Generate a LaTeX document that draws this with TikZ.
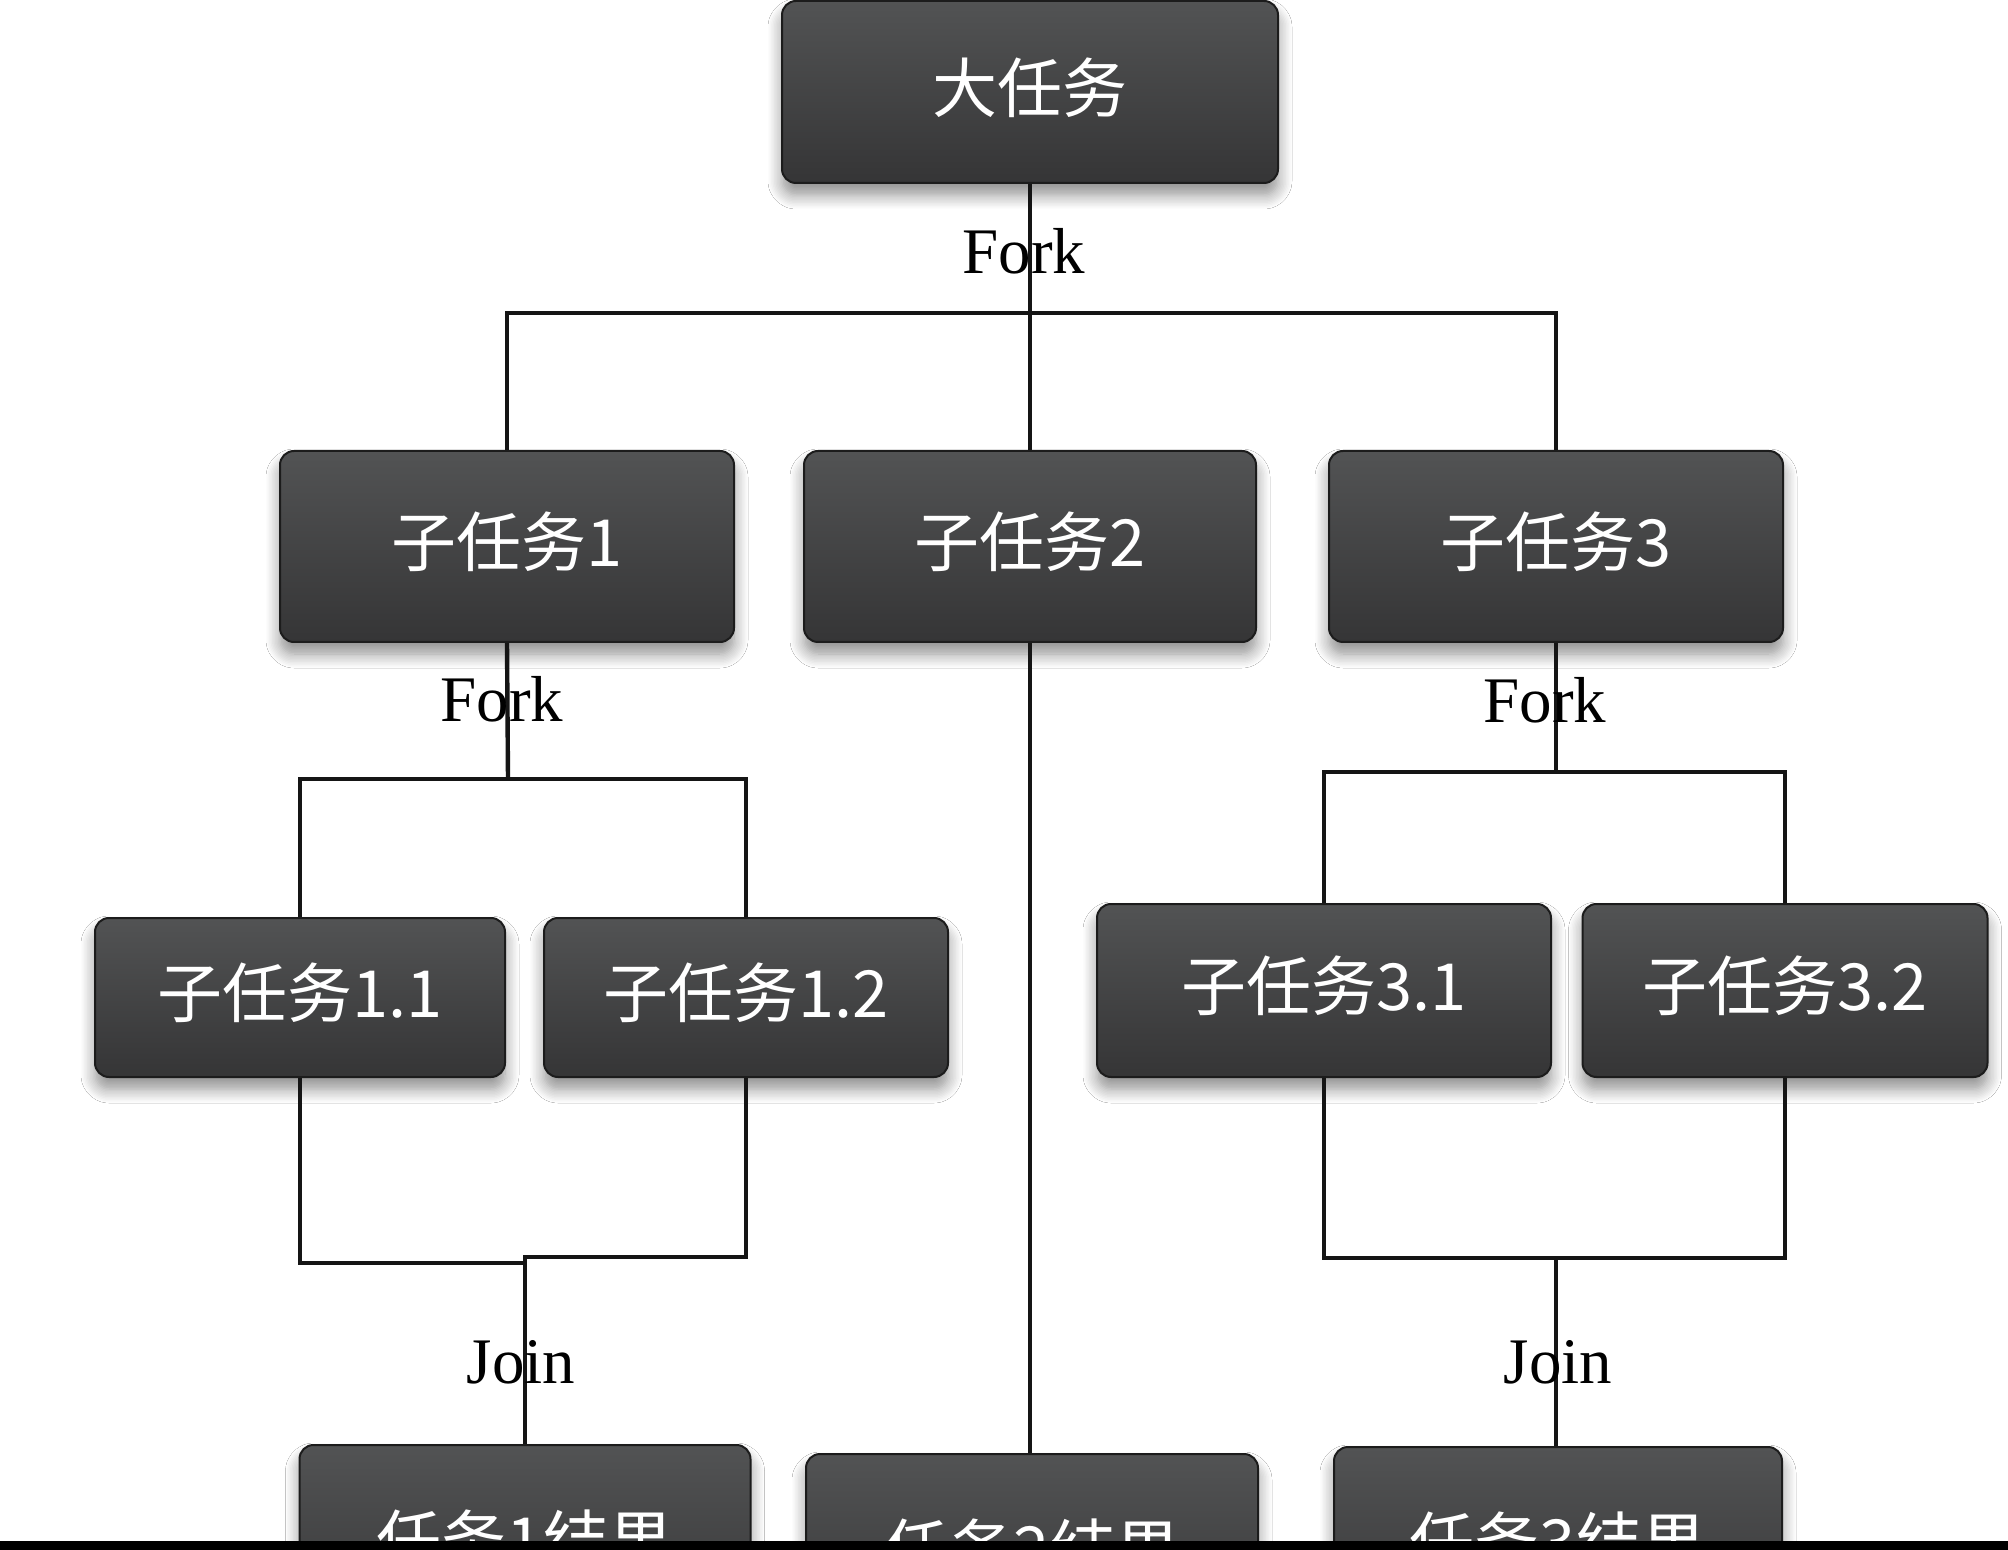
\documentclass[tikz,border=0pt]{standalone}
\usepackage{fontspec}
\setmainfont{Liberation Serif}
\newfontfamily\cjk{Noto Sans CJK SC}
\usetikzlibrary{shadows.blur}
\definecolor{boxtop}{HTML}{525354}
\definecolor{boxbot}{HTML}{353536}
\definecolor{boxline}{HTML}{1C1C1C}
\definecolor{wire}{HTML}{151515}
\tikzset{
  taskbox/.style={rectangle, rounded corners=7pt, draw=boxline, line width=1pt,
    top color=boxtop, bottom color=boxbot, text=white,
    font=\cjk\fontsize{32.5pt}{36pt}\selectfont, inner sep=0pt, text depth=7pt,
    blur shadow={shadow xshift=0pt, shadow yshift=-6pt, shadow blur radius=7pt, shadow blur steps=10, shadow opacity=45}},
  wireline/.style={draw=wire, line width=2.2pt},
  lbl/.style={font=\fontsize{32.5pt}{36pt}\selectfont, anchor=base, inner sep=0pt, text=black}
}
\begin{document}
\begin{tikzpicture}[x=0.5pt,y=-0.5pt]
\useasboundingbox (0,0) rectangle (2008,1550);
\clip (0,0) rectangle (2008,1550);
\fill[white] (0,0) rectangle (2008,1550);

% boxes
\node[taskbox, minimum width=248pt, minimum height=91pt] (top) at (1030,92) {大任务};

\node[taskbox, minimum width=227pt, minimum height=95.5pt] (s1) at (507,546.5) {子任务1};
\node[taskbox, minimum width=226pt, minimum height=95.5pt] (s2) at (1030,546.5) {子任务2};
\node[taskbox, minimum width=227pt, minimum height=95.5pt] (s3) at (1556,546.5) {子任务3};

\node[taskbox, minimum width=205pt, minimum height=79.5pt] (s11) at (300,997.5) {子任务1.1};
\node[taskbox, minimum width=202pt, minimum height=79.5pt] (s12) at (746,997.5) {子任务1.2};
\node[taskbox, minimum width=227pt, minimum height=86.5pt] (s31) at (1324,990.5) {子任务3.1};
\node[taskbox, minimum width=202.5pt, minimum height=86.5pt] (s32) at (1785,990.5) {子任务3.2};

\node[taskbox, minimum width=225.5pt, minimum height=99pt] (r1) at (525,1544) {任务1结果};
\node[taskbox, minimum width=226pt, minimum height=99pt] (r2) at (1032,1553) {任务2结果};
\node[taskbox, minimum width=224pt, minimum height=99pt] (r3) at (1558,1546) {任务3结果};

% coordinates
\coordinate (f0) at (1031,313);
\coordinate (f1) at (508,779);
\coordinate (f3) at (1556,772);
\coordinate (jl1) at (525,1263);
\coordinate (jl2) at (525,1257);
\coordinate (j3) at (1556,1258);

% connectors
\draw[wireline] (top.south) -- (s2.north);
\draw[wireline] (s1.north) |- (f0) -| (s3.north);
\draw[wireline] (s2.south) -- (s2.south |- r2.north);

\draw[wireline] (s1.south) -- (f1);
\draw[wireline] (s11.north) |- (f1) -| (s12.north);
\draw[wireline] (s3.south) -- (f3);
\draw[wireline] (s31.north) |- (f3) -| (s32.north);

\draw[wireline] (s11.south) |- (jl1);
\draw[wireline] (s12.south) |- (jl2) -- (r1.north);
\draw[wireline] (s31.south) |- (j3) -| (s32.south);
\draw[wireline] (j3) -- (j3 |- r3.north);

% labels
\node[lbl] (lf0) at (1024,274) {Fork};
\node[lbl] (lf1) at (502,722) {Fork};
\node[lbl] (lf3) at (1545,723) {Fork};
\node[lbl] (lj1) at (521,1383) {Join};
\node[lbl] (lj3) at (1558,1383) {Join};

% bottom bar
\fill[black] (0,1541) rectangle (2008,1550);
\end{tikzpicture}
\end{document}
